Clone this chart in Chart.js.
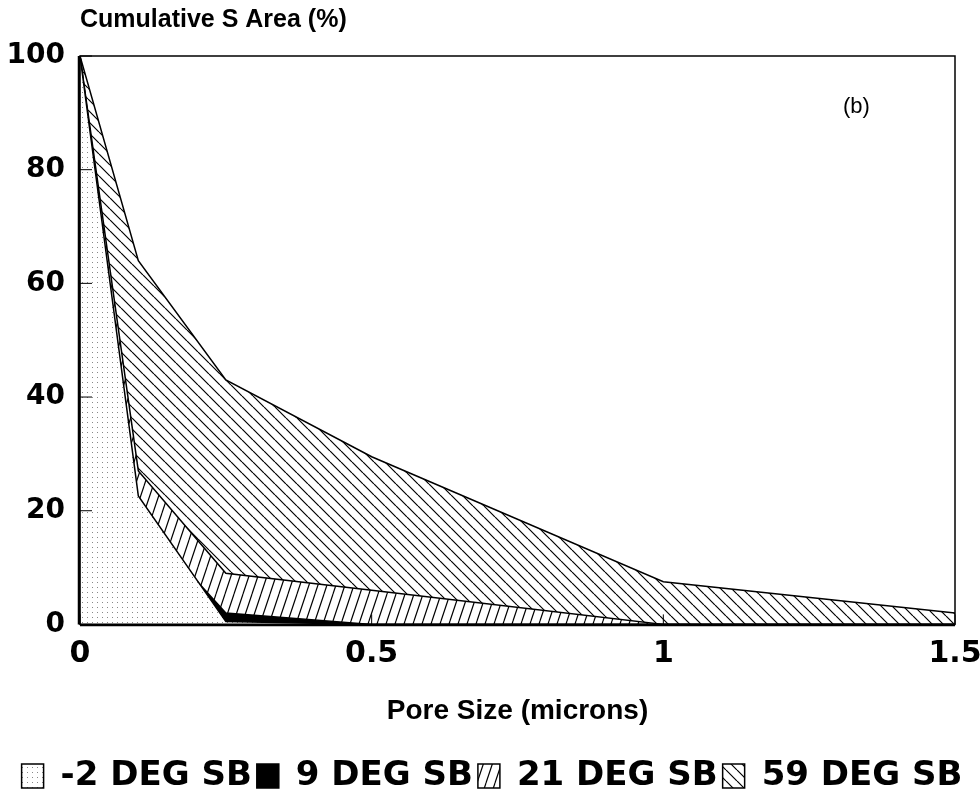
<!DOCTYPE html>
<html>
<head>
<meta charset="utf-8">
<script src="https://cdn.jsdelivr.net/npm/chart.js@4.4.0/dist/chart.umd.min.js"></script>
<style>
  html, body { margin: 0; padding: 0; background: #fff; }
  #wrap { width: 980px; height: 792px; }
</style>
</head>
<body>
<div id="wrap"><canvas id="poreChart" width="980" height="792"></canvas></div>
<script>
// Data
const poreSize = [0, 0.1, 0.25, 0.5, 1, 1.5];
const degM2 = [100, 22.6, 0.5, 0, 0, 0];
const deg9 = [100, 19, 2, 0, 0, 0];
const deg21 = [100, 27, 9, 6, 0, 0];
const deg59 = [100, 64, 43, 29.5, 7.5, 2];
const seriesLabels = ['-2 DEG SB', '9 DEG SB', '21 DEG SB', '59 DEG SB'];
const xTicks = [0, 0.5, 1, 1.5];
const yTicks = [0, 20, 40, 60, 80, 100];

// Fill patterns (dots, solid, "/" hatch, "\" hatch)
function makeTile(w, h, draw) {
    const c = document.createElement('canvas');
    c.width = w; c.height = h;
    const g = c.getContext('2d');
    g.fillStyle = '#fff';
    g.fillRect(0, 0, w, h);
    draw(g, w, h);
    return document.createElement('canvas').getContext('2d').createPattern(c, 'repeat');
}

const dotFill = makeTile(5, 5, (g) => {
    g.fillStyle = '#888';
    g.fillRect(2, 2, 1, 1);
});

function hatchFill(w, h, rising) {
    return makeTile(w, h, (g) => {
        g.strokeStyle = '#000';
        g.lineWidth = 1.2;
        g.beginPath();
        for (let k = -1; k <= 1; k++) {
            if (rising) {
                g.moveTo(k * w + w, 0);
                g.lineTo(k * w, h);
            } else {
                g.moveTo(k * w, 0);
                g.lineTo(k * w + w, h);
            }
        }
        g.stroke();
    });
}

const fills = [dotFill, '#000', hatchFill(9, 27, true), hatchFill(11, 11, false)];
const seriesValues = [degM2, deg9, deg21, deg59];

function toPoints(values) {
    return poreSize.map((x, i) => ({ x: x, y: values[i] }));
}

// Frame, inward ticks and loose labels
const framePlugin = {
    id: 'frame',
    afterDatasetsDraw(chart) {
        const ctx = chart.ctx;
        const a = chart.chartArea;
        const xs = chart.scales.x, ys = chart.scales.y;
        ctx.save();
        ctx.strokeStyle = '#000';
        ctx.lineWidth = 1.5;
        ctx.strokeRect(a.left, a.top, a.right - a.left, a.bottom - a.top);
        ctx.lineWidth = 2.5;
        ctx.beginPath();
        ctx.moveTo(a.left - 1, a.top);
        ctx.lineTo(a.left - 1, a.bottom);
        ctx.moveTo(a.left, a.bottom + 0.5);
        ctx.lineTo(a.right, a.bottom + 0.5);
        ctx.stroke();
        ctx.lineWidth = 1;
        ctx.beginPath();
        yTicks.forEach(v => {
            const py = ys.getPixelForValue(v);
            ctx.moveTo(a.left, py);
            ctx.lineTo(a.left + 12, py);
        });
        xTicks.forEach(v => {
            const px = xs.getPixelForValue(v);
            ctx.moveTo(px, a.bottom);
            ctx.lineTo(px, a.bottom - 10);
        });
        ctx.stroke();
        ctx.restore();
    },
    afterDraw(chart) {
        const ctx = chart.ctx;
        const a = chart.chartArea;
        ctx.save();
        ctx.fillStyle = '#000';
        ctx.textBaseline = 'alphabetic';
        ctx.textAlign = 'left';
        ctx.font = 'bold 25px "Liberation Sans", Arial, sans-serif';
        ctx.fillText('Cumulative S Area (%)', a.left, 27);
        ctx.font = '22px "Liberation Sans", Arial, sans-serif';
        ctx.fillText('(b)', 843, 113);
        ctx.restore();
    }
};

const ctx = document.getElementById('poreChart').getContext('2d');
const poreChart = new Chart(ctx, {
    type: 'line',
    data: {
        datasets: seriesLabels.map((label, i) => ({
            label: label,
            data: toPoints(seriesValues[i]),
            backgroundColor: fills[i],
            borderColor: '#000',
            borderWidth: 1.5,
            fill: 'origin',
            pointRadius: 0,
            tension: 0
        }))
    },
    options: {
        responsive: false,
        animation: false,
        layout: { padding: { top: 56, left: 4, right: 0, bottom: -11 } },
        scales: {
            x: {
                type: 'linear',
                min: 0,
                max: 1.5,
                afterBuildTicks: (scale) => { scale.ticks = xTicks.map(v => ({ value: v })); },
                afterFit: (scale) => { scale.paddingRight = 25; scale.paddingLeft = 0; },
                ticks: {
                    color: '#000',
                    padding: 12,
                    maxRotation: 0,
                    callback: (v) => String(v),
                    font: { family: '"DejaVu Sans"', weight: 'bold', size: 30 }
                },
                grid: { display: false, drawTicks: false },
                border: { display: false },
                title: {
                    display: true,
                    text: 'Pore Size (microns)',
                    color: '#000',
                    font: { family: '"Liberation Sans"', weight: 'bold', size: 28 },
                    padding: { top: 10, bottom: 26 }
                }
            },
            y: {
                min: 0,
                max: 100,
                afterBuildTicks: (scale) => { scale.ticks = yTicks.map(v => ({ value: v })); },
                afterFit: (scale) => { scale.width = 76; },
                ticks: {
                    color: '#000',
                    padding: 15,
                    font: { family: '"DejaVu Sans"', weight: 'bold', size: 28 }
                },
                grid: { display: false, drawTicks: false },
                border: { display: false }
            }
        },
        plugins: {
            legend: {
                position: 'bottom',
                labels: {
                    boxWidth: 22,
                    boxHeight: 24,
                    padding: 5,
                    color: '#000',
                    font: { family: '"DejaVu Sans"', weight: 'bold', size: 34 }
                }
            },
            tooltip: { enabled: false }
        }
    },
    plugins: [framePlugin]
});
</script>
</body>
</html>
